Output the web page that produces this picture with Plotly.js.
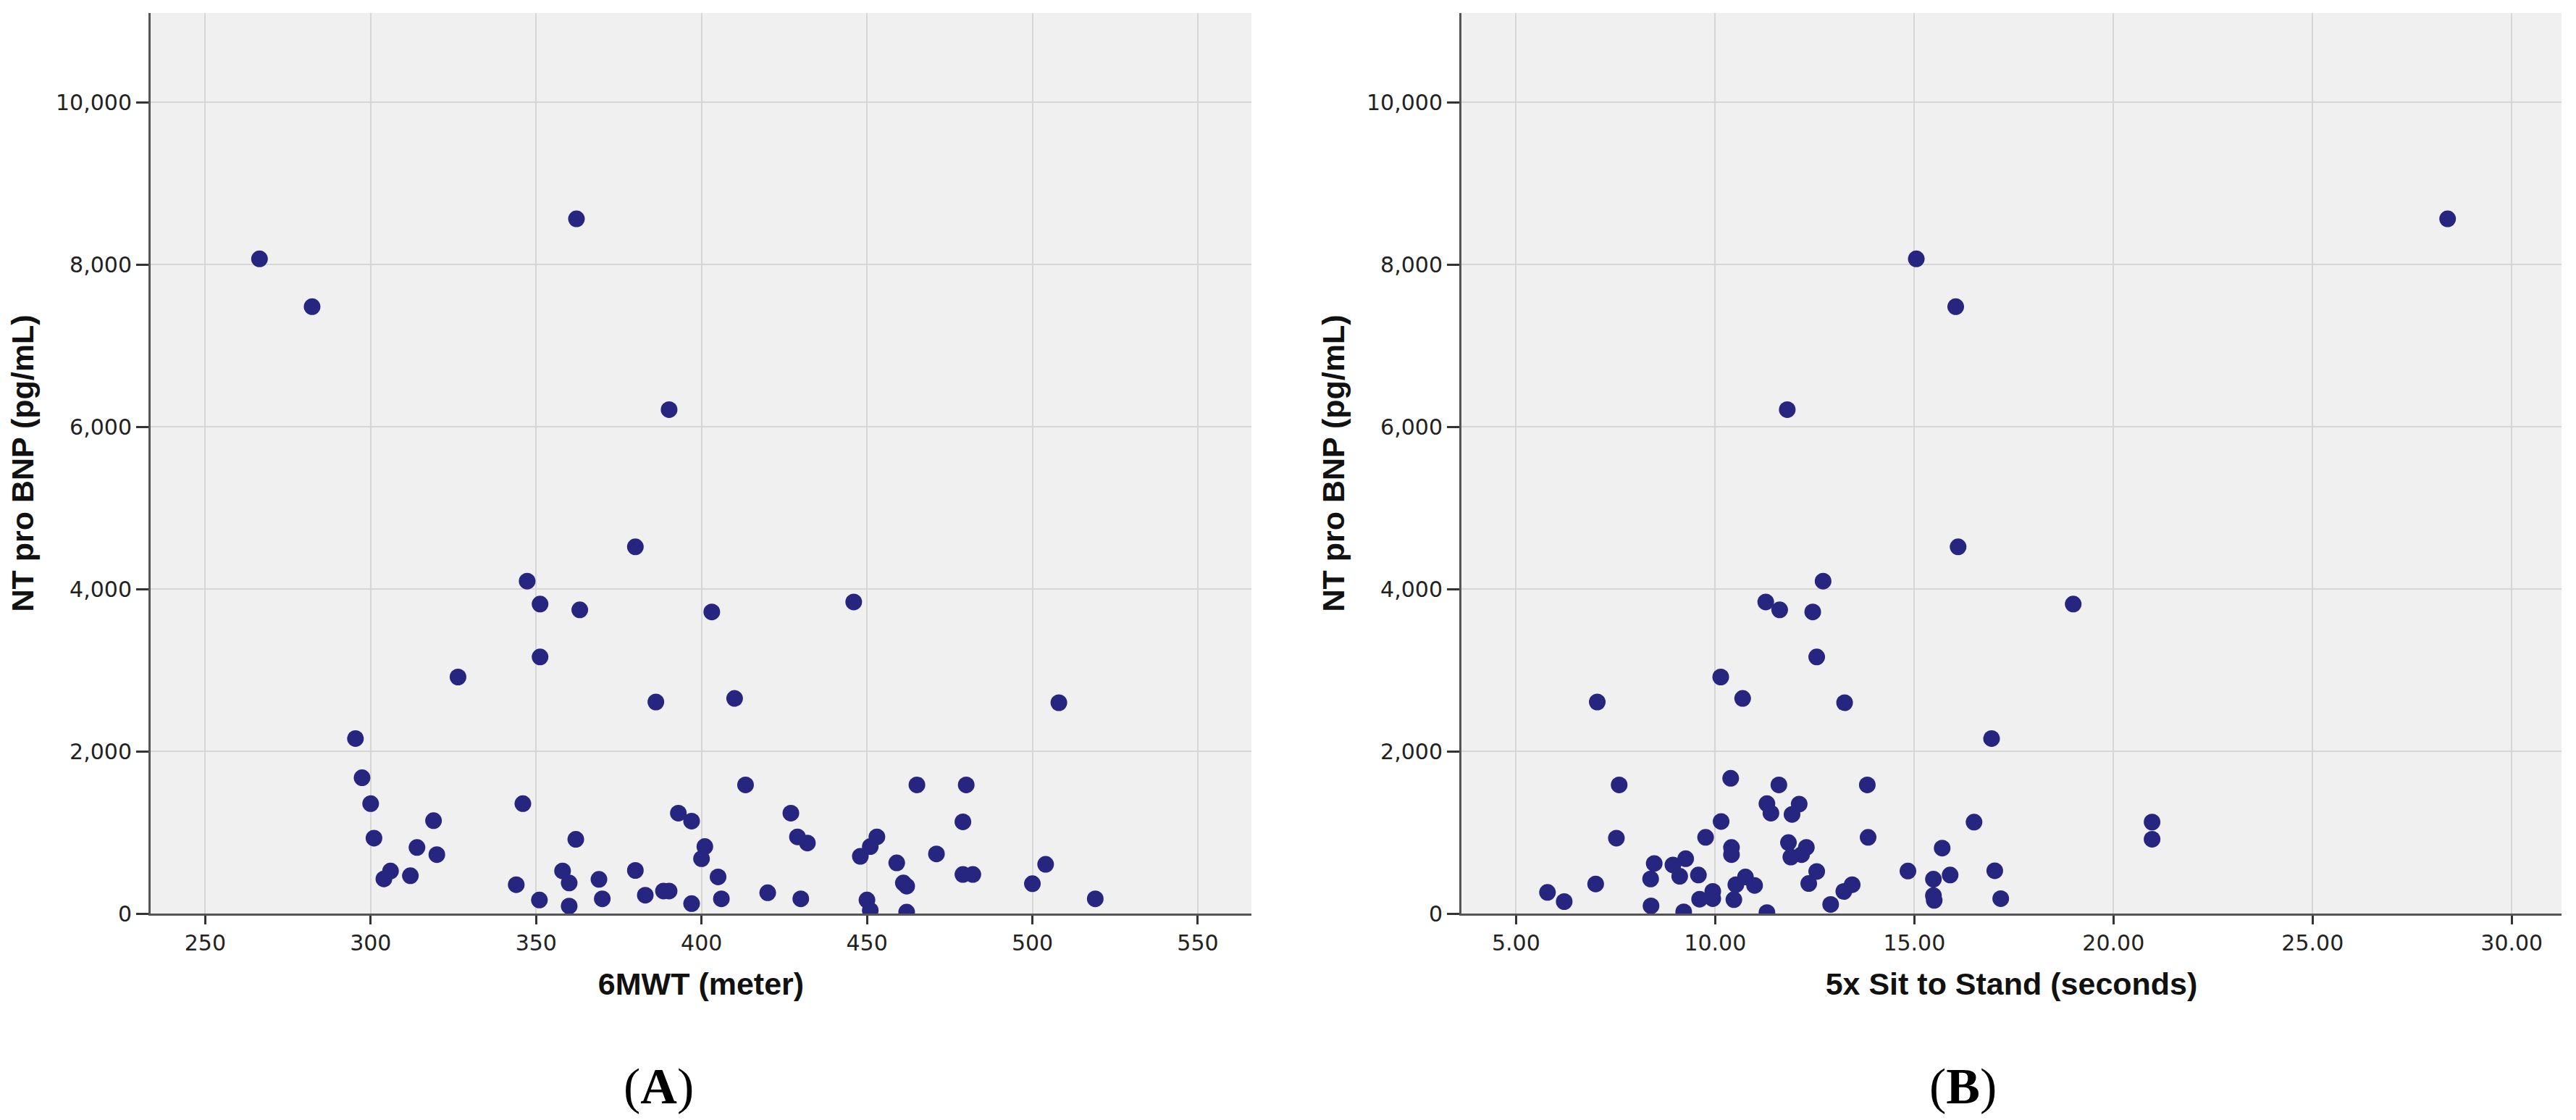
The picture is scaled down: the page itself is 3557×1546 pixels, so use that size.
<!DOCTYPE html>
<html>
<head>
<meta charset="utf-8">
<script src="https://cdn.plot.ly/plotly-3.0.1.min.js"></script>
<style>
  html, body { margin: 0; padding: 0; background: #ffffff; }
  #chart { width: 3557px; height: 1546px; }
</style>
</head>
<body>
<div id="chart"></div>
<script>
// Panel A: 6MWT (meter) vs NT pro BNP (pg/mL)
const walkMeters = [
  266.4, 282.3, 362.2, 390.2, 380.0, 347.3, 351.2, 363.2, 403.1, 446.0,
  351.2, 326.4, 386.2, 410.0, 508.0, 295.4, 297.4, 413.3, 465.1, 480.0,
  300.0, 346.0, 319.0, 301.0, 362.0, 314.0, 320.0, 306.0, 304.0, 312.0,
  358.0, 360.0, 369.0, 380.0, 344.0, 351.0, 360.0, 370.0, 383.0,
  393.0, 397.0, 427.0, 479.0, 429.0, 432.0, 453.0, 451.0, 401.0, 400.0,
  448.0, 471.0, 459.0, 504.0, 405.0, 479.0, 482.0, 461.0, 462.0, 500.0,
  388.5, 390.2, 420.0, 406.0, 430.0, 397.0, 450.0, 451.0, 462.0, 519.0
];
const bnpA = [
  8070, 7480, 8563, 6211, 4520, 4097, 3815, 3744, 3718, 3841,
  3163, 2916, 2608, 2652, 2599, 2158, 1674, 1586, 1586, 1586,
  1355, 1355, 1145, 930, 915, 815, 727, 525, 428, 467,
  526, 377, 422, 532, 356, 167, 93, 182, 227,
  1238, 1140, 1238, 1131, 945, 870, 945, 826, 826, 676,
  706, 736, 625, 607, 452, 482, 482, 377, 338, 368,
  278, 278, 257, 182, 182, 123, 167, 39, 18, 182
];

// Panel B: 5x Sit to Stand (seconds) vs NT pro BNP (pg/mL)
const sitStandSec = [
  28.39, 15.05, 16.04, 11.81, 16.10, 12.71, 11.27, 11.62, 12.45, 18.99,
  12.55, 10.14, 10.69, 7.04, 13.25, 16.94, 10.39, 7.59, 11.60, 13.82,
  7.52, 10.15, 9.76, 10.41, 10.41, 11.30, 11.40, 8.47, 8.38, 8.94,
  9.26, 9.11, 9.58, 5.79, 6.21, 7.00, 8.39, 9.21, 9.61, 9.94,
  9.94, 10.52, 10.76, 10.99, 10.47, 11.30,
  12.11, 11.93, 16.50, 13.84, 15.70, 11.84, 12.29, 11.90, 12.17, 12.55,
  12.35, 12.90, 13.23, 13.44, 14.84, 15.48, 15.90, 15.48, 15.50, 17.02,
  17.17, 20.97, 20.97
];
const bnpB = [
  8563, 8070, 7480, 6211, 4520, 4097, 3841, 3744, 3718, 3815,
  3163, 2916, 2652, 2608, 2599, 2158, 1667, 1586, 1586, 1586,
  930, 1135, 940, 815, 727, 1355, 1238, 617, 427, 599,
  676, 460, 475, 261, 148, 365, 95, 21, 178, 184,
  273, 356, 451, 347, 172, 12,
  1350, 1222, 1127, 940, 807, 875, 816, 697, 727, 519,
  371, 113, 273, 356, 525, 424, 475, 222, 163, 528,
  184, 1128, 916
];

const xTicksA = [250, 300, 350, 400, 450, 500, 550];
const xTicksB = [5, 10, 15, 20, 25, 30];
const yTicks = [0, 2000, 4000, 6000, 8000, 10000];

const markerColor = '#262680';
const tickFont = { family: 'DejaVu Sans, sans-serif', size: 30, color: '#222222' };
const titleFont = { family: 'Liberation Sans, Arial, sans-serif', size: 43, color: '#111111', weight: 'bold' };

function xAxis(domain, range, ticks, fmt, title) {
  return {
    domain: domain, range: range, tickmode: 'array', tickvals: ticks,
    ticktext: ticks.map(v => fmt(v)),
    showgrid: true, gridcolor: '#d6d6d6', gridwidth: 2,
    showline: true, linecolor: '#555555', linewidth: 3, mirror: false,
    ticks: 'outside', ticklen: 12, tickwidth: 3, tickcolor: '#333333',
    tickfont: tickFont, zeroline: false, automargin: false,
    title: { text: title, font: titleFont, standoff: 25 }
  };
}
function yAxis(domain, anchor) {
  return {
    domain: domain, range: [0, 11100], anchor: anchor,
    tickmode: 'array', tickvals: yTicks,
    ticktext: yTicks.map(v => v.toLocaleString('en-US')),
    showgrid: true, gridcolor: '#d6d6d6', gridwidth: 2,
    showline: true, linecolor: '#555555', linewidth: 3,
    ticks: 'outside', ticklen: 17, tickwidth: 3, tickcolor: '#333333',
    tickfont: tickFont, zeroline: false, automargin: false,
    title: { text: 'NT pro BNP (pg/mL)', font: titleFont, standoff: 17 }
  };
}

const traces = [
  { type: 'scatter', mode: 'markers', x: walkMeters, y: bnpA, xaxis: 'x', yaxis: 'y',
    marker: { size: 23, color: markerColor }, showlegend: false },
  { type: 'scatter', mode: 'markers', x: sitStandSec, y: bnpB, xaxis: 'x2', yaxis: 'y2',
    marker: { size: 23, color: markerColor }, showlegend: false }
];

const yDom = [0.1843, 0.9884];
const layout = {
  width: 3557, height: 1546,
  margin: { l: 0, r: 0, t: 0, b: 0 },
  paper_bgcolor: '#ffffff', plot_bgcolor: '#f0f0f0',
  showlegend: false,
  xaxis: Object.assign(xAxis([0.05848, 0.48580], [233.5, 566.2], xTicksA, v => String(v), '6MWT (meter)'), { anchor: 'y' }),
  yaxis: yAxis(yDom, 'x'),
  xaxis2: Object.assign(xAxis([0.56733, 0.99438], [3.63, 31.25], xTicksB, v => v.toFixed(2), '5x Sit to Stand (seconds)'), { anchor: 'y2' }),
  yaxis2: yAxis(yDom, 'x2'),
  annotations: [
    { text: '(<b>A</b>)', xref: 'paper', yref: 'paper', x: 0.2558, y: 0.0304,
      xanchor: 'center', yanchor: 'middle', showarrow: false,
      font: { family: 'Liberation Serif, Times New Roman, serif', size: 70, color: '#000000' } },
    { text: '(<b>B</b>)', xref: 'paper', yref: 'paper', x: 0.7619, y: 0.0304,
      xanchor: 'center', yanchor: 'middle', showarrow: false,
      font: { family: 'Liberation Serif, Times New Roman, serif', size: 70, color: '#000000' } }
  ]
};

Plotly.newPlot('chart', traces, layout, { displayModeBar: false, staticPlot: true });
</script>
</body>
</html>
